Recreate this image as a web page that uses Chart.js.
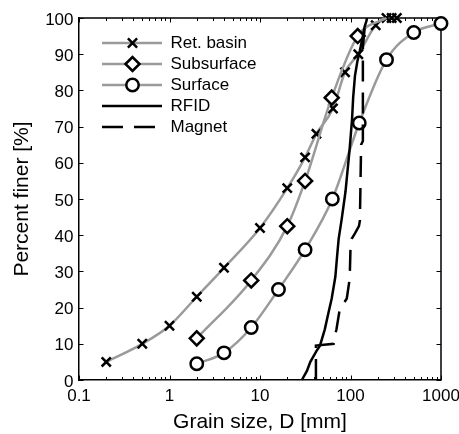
<!DOCTYPE html>
<html>
<head>
<meta charset="utf-8">
<script src="https://cdn.jsdelivr.net/npm/chart.js@4/dist/chart.umd.min.js"></script>
<style>
html, body { margin: 0; padding: 0; background: #ffffff; }
#wrap { width: 459px; height: 434px; }
</style>
</head>
<body>
<div id="wrap"><canvas id="c" width="459" height="434"></canvas></div>
<script>
// ---- data (grain size D in mm, percent finer) ----
const seriesNames = ['Ret. basin', 'Subsurface', 'Surface', 'RFID', 'Magnet'];

const retBasinD = [0.2, 0.5, 1, 2, 4, 10, 20, 31.5, 42, 64, 87, 122, 190, 250, 285, 325];
const retBasinP = [5, 10, 15, 23, 31, 42, 53, 61.5, 68, 75, 85, 90, 98, 100, 100, 100];

const subsurfaceD = [2, 8, 20, 31.5, 62, 120, 250];
const subsurfaceP = [11.5, 27.5, 42.5, 55, 78, 95, 100];

const surfaceD = [2, 4, 8, 16, 31.5, 63, 125, 250, 500, 1000];
const surfaceP = [4.5, 7.5, 14.5, 25, 36, 50, 71, 88.5, 96, 98.5];

const rfidD = [29, 33, 36, 42, 46, 52, 57, 62, 68, 71, 74, 80, 88, 98, 104, 107, 112, 119, 127, 137, 143, 151, 151];
const rfidP = [0, 2.5, 5, 8, 9.5, 14, 18.5, 22.5, 28.5, 34, 39, 44.5, 52, 64, 72, 78, 84, 88, 91, 95, 97.5, 99.4, 100];

const magnetD = [41.5, 41.5, 65, 65, 70, 76, 91, 98, 100, 103, 112, 124, 127, 131, 137, 137, 143, 151];
const magnetP = [0, 9.5, 10, 11, 14, 19.5, 22.5, 28, 36.5, 39, 40.5, 42.5, 44, 65, 66, 92, 97, 100];

const xTickValues = [0.1, 1, 10, 100, 1000];
const xTickLabels = ['0.1', '1', '10', '100', '1000'];
const yTickValues = [0, 10, 20, 30, 40, 50, 60, 70, 80, 90, 100];
const yTickLabels = ['0', '10', '20', '30', '40', '50', '60', '70', '80', '90', '100'];

const xTitle = 'Grain size, D [mm]';
const yTitle = 'Percent finer [%]';

// ---- styles ----
const FONT = "'Liberation Sans', Arial, Helvetica, sans-serif";
const GRAY = '#9a9a9a';
const BLACK = '#000000';
const CROSS_R = 6.5;

function pts(d, p) { return d.map((v, i) => ({ x: v, y: p[i] })); }

// legend icon: line with marker, drawn into a small canvas
function legendIcon(kind) {
  const W = 79, H = 20;
  const c = document.createElement('canvas');
  c.width = W; c.height = H;
  const g = c.getContext('2d');
  const y = H / 2, x0 = 19, x1 = 80, xm = 49.5;
  g.lineWidth = 2.5;
  g.lineCap = 'butt';
  if (kind === 'rfid' || kind === 'magnet') {
    g.strokeStyle = BLACK;
    if (kind === 'magnet') g.setLineDash([21, 11]);
    g.beginPath(); g.moveTo(x0, y); g.lineTo(kind === 'magnet' ? 74 : x1, y); g.stroke();
    return c;
  }
  g.strokeStyle = GRAY;
  g.beginPath(); g.moveTo(x0, y); g.lineTo(x1, y); g.stroke();
  g.strokeStyle = BLACK;
  g.fillStyle = '#ffffff';
  g.beginPath();
  if (kind === 'cross') {
    const r = CROSS_R * Math.SQRT1_2;
    g.moveTo(xm - r, y - r); g.lineTo(xm + r, y + r);
    g.moveTo(xm + r, y - r); g.lineTo(xm - r, y + r);
    g.stroke();
  } else if (kind === 'diamond') {
    const r = 7;
    g.moveTo(xm - r, y); g.lineTo(xm, y - r); g.lineTo(xm + r, y); g.lineTo(xm, y + r); g.closePath();
    g.fill(); g.stroke();
  } else if (kind === 'circle') {
    g.arc(xm, y, 6.2, 0, Math.PI * 2);
    g.fill(); g.stroke();
  }
  return c;
}
const legendKinds = ['cross', 'diamond', 'circle', 'rfid', 'magnet'];

const datasets = [
  {
    label: seriesNames[0], data: pts(retBasinD, retBasinP), order: 5,
    borderColor: GRAY, borderWidth: 2.5, cubicInterpolationMode: 'monotone',
    pointStyle: 'crossRot', pointRadius: CROSS_R, pointBorderWidth: 2.5,
    pointBorderColor: BLACK, pointBackgroundColor: BLACK, clip: false
  },
  {
    label: seriesNames[1], data: pts(subsurfaceD, subsurfaceP), order: 4,
    borderColor: GRAY, borderWidth: 2.5, cubicInterpolationMode: 'monotone',
    pointStyle: 'rectRot', pointRadius: subsurfaceD.map((v, i) => i === subsurfaceD.length - 1 ? 0 : 7),
    pointBorderWidth: 2.5, pointBorderColor: BLACK, pointBackgroundColor: '#ffffff', clip: false
  },
  {
    label: seriesNames[2], data: pts(surfaceD, surfaceP), order: 3,
    borderColor: GRAY, borderWidth: 2.5, cubicInterpolationMode: 'monotone',
    pointStyle: 'circle', pointRadius: 6.2, pointBorderWidth: 2.5,
    pointBorderColor: BLACK, pointBackgroundColor: '#ffffff', clip: false
  },
  {
    label: seriesNames[3], data: pts(rfidD, rfidP), order: 2,
    borderColor: BLACK, borderWidth: 2.5, tension: 0, pointRadius: 0, clip: false
  },
  {
    label: seriesNames[4], data: pts(magnetD, magnetP), order: 1,
    borderColor: BLACK, borderWidth: 2.5, borderDash: [21, 11], tension: 0, pointRadius: 0, clip: false
  }
];

// frame (top/right) and inward tick marks on all sides
const frameTicks = {
  id: 'frameTicks',
  beforeDatasetsDraw(chart) {
    const { ctx, chartArea: a, scales } = chart;
    const xs = scales.x, ys = scales.y;
    ctx.save();
    ctx.strokeStyle = BLACK;
    ctx.lineWidth = 1.5;
    ctx.beginPath();
    ctx.moveTo(a.left, a.top); ctx.lineTo(a.right, a.top); ctx.lineTo(a.right, a.bottom);
    ctx.stroke();
    ctx.lineWidth = 1;
    const minorX = [];
    for (let k = 0; k < xTickValues.length - 1; k++) {
      for (let m = 2; m <= 9; m++) minorX.push(xTickValues[k] * m);
    }
    ctx.beginPath();
    const xt = (v, len) => {
      const px = Math.round(xs.getPixelForValue(v)) + 0.5;
      ctx.moveTo(px, a.bottom); ctx.lineTo(px, a.bottom - len);
      ctx.moveTo(px, a.top); ctx.lineTo(px, a.top + len);
    };
    xTickValues.forEach(v => xt(v, 4.5));
    minorX.forEach(v => xt(v, 3));
    yTickValues.forEach(v => {
      const py = Math.round(ys.getPixelForValue(v)) + 0.5;
      ctx.moveTo(a.left, py); ctx.lineTo(a.left + 4.5, py);
      ctx.moveTo(a.right, py); ctx.lineTo(a.right - 4.5, py);
    });
    ctx.stroke();
    ctx.restore();
  }
};

new Chart(document.getElementById('c'), {
  type: 'line',
  data: { datasets },
  options: {
    responsive: false,
    animation: false,
    devicePixelRatio: 1,
    layout: { padding: { left: 0, right: 18, top: 18, bottom: 0 } },
    plugins: {
      tooltip: { enabled: false },
      legend: {
        display: true,
        position: 'chartArea',
        align: 'start',
        title: { display: true, text: '', font: { family: FONT, size: 30.5, lineHeight: 1 }, padding: 0 },
        labels: {
          usePointStyle: true,
          pointStyleWidth: 79,
          padding: 4,
          color: BLACK,
          font: { family: FONT, size: 17 },
          generateLabels: () => seriesNames.map((name, i) => ({
            text: name,
            fillStyle: 'rgba(0,0,0,0)',
            strokeStyle: 'rgba(0,0,0,0)',
            lineWidth: 0,
            pointStyle: legendIcon(legendKinds[i]),
            hidden: false,
            datasetIndex: i,
            fontColor: BLACK
          }))
        }
      }
    },
    scales: {
      x: {
        type: 'logarithmic',
        position: 'bottom',
        min: 0.1,
        max: 1000,
        grid: { display: false, drawTicks: false },
        border: { display: true, color: BLACK, width: 1.5 },
        afterBuildTicks: (s) => { s.ticks = xTickValues.map(v => ({ value: v })); },
        afterFit: (s) => { s.height = 54; s.paddingLeft = 0; s.paddingRight = 0; },
        ticks: {
          autoSkip: false, maxRotation: 0, minRotation: 0,
          color: BLACK, padding: 6,
          font: { family: FONT, size: 17 },
          callback: (v, i) => xTickLabels[i]
        },
        title: {
          display: true, text: xTitle, color: BLACK,
          font: { family: FONT, size: 21, lineHeight: 1 },
          padding: { top: 0, bottom: 1.5 }
        }
      },
      y: {
        type: 'linear',
        position: 'left',
        min: 0,
        max: 100,
        grid: { display: false, drawTicks: false },
        border: { display: true, color: BLACK, width: 1.5 },
        afterBuildTicks: (s) => { s.ticks = yTickValues.map(v => ({ value: v })); },
        afterFit: (s) => { s.width = 79; s.paddingTop = 0; s.paddingBottom = 0; },
        ticks: {
          autoSkip: false, color: BLACK, padding: 5.5, labelOffset: 2,
          font: { family: FONT, size: 17 },
          callback: (v, i) => yTickLabels[i]
        },
        title: {
          display: true, text: yTitle, color: BLACK,
          font: { family: FONT, size: 21, lineHeight: 1 },
          padding: { top: 11.5, bottom: 0 }
        }
      }
    }
  },
  plugins: [frameTicks]
});
</script>
</body>
</html>
